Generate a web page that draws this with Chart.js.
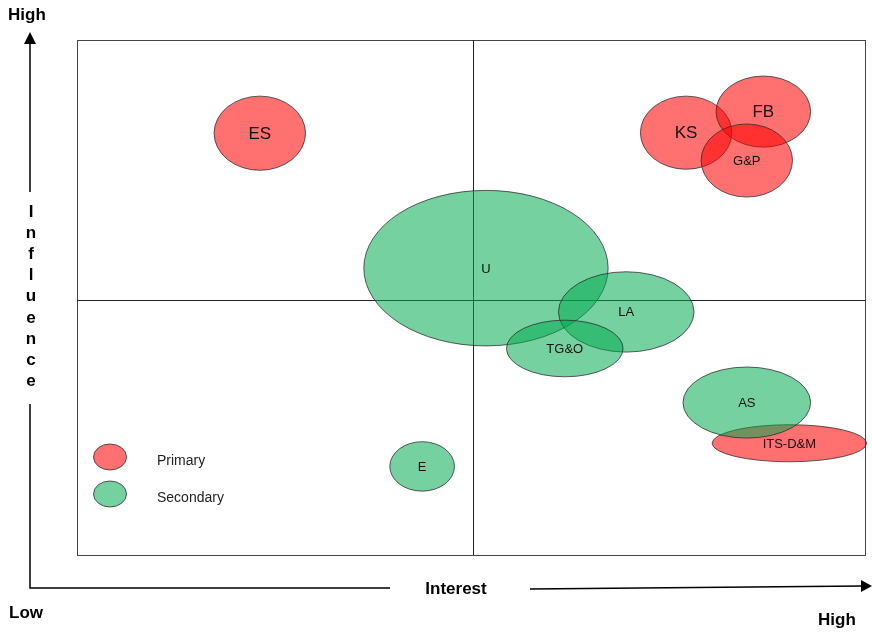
<!DOCTYPE html>
<html>
<head>
<meta charset="utf-8">
<title>Stakeholder map</title>
<script src="https://cdn.jsdelivr.net/npm/chart.js@4.4.1/dist/chart.umd.min.js"></script>
<style>
  html, body { margin: 0; padding: 0; background: #fff; }
  canvas { display: block; }
</style>
</head>
<body>
<canvas id="myChart" width="872" height="633"></canvas>
<script>
// Stakeholders: position on interest (x) / influence (y), 0..10, and ellipse half-size in axis units
const primaryNames = ['ES', 'KS', 'FB', 'G&P', 'ITS-D&M'];
const primaryInterest = [2.32, 7.73, 8.71, 8.5, 9.04];
const primaryInfluence = [8.19, 8.2, 8.61, 7.66, 2.17];
const primaryRx = [0.58, 0.58, 0.6, 0.58, 0.98];
const primaryRy = [0.72, 0.71, 0.69, 0.71, 0.36];
const primaryBig = [true, true, true, false, false];

const secondaryNames = ['U', 'LA', 'TG&O', 'AS', 'E'];
const secondaryInterest = [5.19, 6.97, 6.19, 8.5, 4.38];
const secondaryInfluence = [5.57, 4.72, 4.01, 2.96, 1.72];
const secondaryRx = [1.55, 0.86, 0.74, 0.81, 0.41];
const secondaryRy = [1.51, 0.78, 0.55, 0.69, 0.48];
const secondaryBig = [false, false, false, false, false];

const groupNames = ['Primary', 'Secondary'];
// where the quadrant dividers sit (slightly off centre in the original)
const splitInterest = 5.02;
const splitInfluence = 4.96;

const redFill = 'rgba(255, 0, 0, 0.56)';
const greenFill = 'rgba(0, 170, 80, 0.54)';
const FONT = '"Liberation Sans", Arial, sans-serif';

function toPoints(names, xs, ys, rxs, rys, big) {
    return names.map((n, i) => ({ x: xs[i], y: ys[i], rx: rxs[i], ry: rys[i], label: n, big: big[i] }));
}

// Draws every stakeholder as an ellipse sized in axis units
const ellipsePlugin = {
    id: 'ellipses',
    beforeDatasetsDraw(chart) {
        const { ctx, chartArea: a, scales: { x, y } } = chart;
        ctx.save();
        // frame and quadrant lines
        ctx.strokeStyle = '#444';
        ctx.lineWidth = 1;
        ctx.strokeRect(a.left + 0.5, a.top + 0.5, a.right - a.left, a.bottom - a.top);
        ctx.beginPath();
        const mx = Math.round(x.getPixelForValue(splitInterest)) + 0.5;
        const my = Math.round(y.getPixelForValue(splitInfluence)) + 0.5;
        ctx.moveTo(mx, a.top); ctx.lineTo(mx, a.bottom);
        ctx.moveTo(a.left, my); ctx.lineTo(a.right, my);
        ctx.strokeStyle = '#222';
        ctx.stroke();

        chart.data.datasets.forEach(ds => {
            ds.data.forEach(p => {
                const cx = x.getPixelForValue(p.x);
                const cy = y.getPixelForValue(p.y);
                const rx = Math.abs(x.getPixelForValue(p.x + p.rx) - cx);
                const ry = Math.abs(y.getPixelForValue(p.y + p.ry) - cy);
                ctx.beginPath();
                ctx.ellipse(cx, cy, rx, ry, 0, 0, Math.PI * 2);
                ctx.fillStyle = ds.backgroundColor;
                ctx.fill();
                ctx.strokeStyle = 'rgba(40, 40, 40, 0.75)';
                ctx.lineWidth = 1;
                ctx.stroke();
            });
        });

        ctx.fillStyle = '#111';
        ctx.textAlign = 'center';
        ctx.textBaseline = 'middle';
        chart.data.datasets.forEach(ds => {
            ds.data.forEach(p => {
                ctx.font = (p.big ? '17px ' : '13px ') + FONT;
                ctx.fillText(p.label, x.getPixelForValue(p.x), y.getPixelForValue(p.y) + 1);
            });
        });

        // legend in the lower-left quadrant
        chart.data.datasets.forEach((ds, i) => {
            const lx = a.left + 33, ly = a.top + 417 + i * 37;
            ctx.beginPath();
            ctx.ellipse(lx, ly, 16.5, 13, 0, 0, Math.PI * 2);
            ctx.fillStyle = ds.backgroundColor;
            ctx.fill();
            ctx.strokeStyle = 'rgba(40, 40, 40, 0.75)';
            ctx.stroke();
            ctx.fillStyle = '#222';
            ctx.textAlign = 'left';
            ctx.font = '14px ' + FONT;
            ctx.fillText(ds.label, a.left + 80, ly + 4);
        });
        ctx.restore();
    },
    afterDraw(chart) {
        // axis arrows and captions outside the plot box
        const { ctx } = chart;
        ctx.save();
        ctx.strokeStyle = '#000';
        ctx.fillStyle = '#000';
        ctx.lineWidth = 1.5;
        ctx.beginPath();
        ctx.moveTo(30, 192); ctx.lineTo(30, 42);
        ctx.moveTo(30, 404); ctx.lineTo(30, 588); ctx.lineTo(390, 588);
        ctx.moveTo(530, 589); ctx.lineTo(862, 586);
        ctx.stroke();
        ctx.beginPath();
        ctx.moveTo(30, 32); ctx.lineTo(24, 44); ctx.lineTo(36, 44); ctx.closePath();
        ctx.fill();
        ctx.beginPath();
        ctx.moveTo(872, 586); ctx.lineTo(861, 580); ctx.lineTo(861, 592); ctx.closePath();
        ctx.fill();

        ctx.font = 'bold 17px ' + FONT;
        ctx.textBaseline = 'middle';
        ctx.textAlign = 'left';
        ctx.fillText('High', 8, 15);
        ctx.fillText('Low', 9, 613);
        ctx.fillText('High', 818, 620);
        ctx.textAlign = 'center';
        ctx.fillText('Interest', 456, 589);
        'Influence'.split('').forEach((ch, i) => {
            ctx.fillText(ch, 31, 212 + i * 21.2);
        });
        ctx.restore();
    }
};

new Chart(document.getElementById('myChart'), {
    type: 'scatter',
    data: {
        datasets: [
            {
                label: groupNames[0],
                data: toPoints(primaryNames, primaryInterest, primaryInfluence, primaryRx, primaryRy, primaryBig),
                backgroundColor: redFill,
                pointRadius: 0,
                pointHoverRadius: 0
            },
            {
                label: groupNames[1],
                data: toPoints(secondaryNames, secondaryInterest, secondaryInfluence, secondaryRx, secondaryRy, secondaryBig),
                backgroundColor: greenFill,
                pointRadius: 0,
                pointHoverRadius: 0
            }
        ]
    },
    options: {
        responsive: false,
        animation: false,
        layout: { padding: { left: 77, top: 40, right: 7, bottom: 78 } },
        plugins: { legend: { display: false }, tooltip: { enabled: false } },
        scales: {
            x: { type: 'linear', min: 0, max: 10, display: false },
            y: { type: 'linear', min: 0, max: 10, display: false }
        }
    },
    plugins: [ellipsePlugin]
});
</script>
</body>
</html>
